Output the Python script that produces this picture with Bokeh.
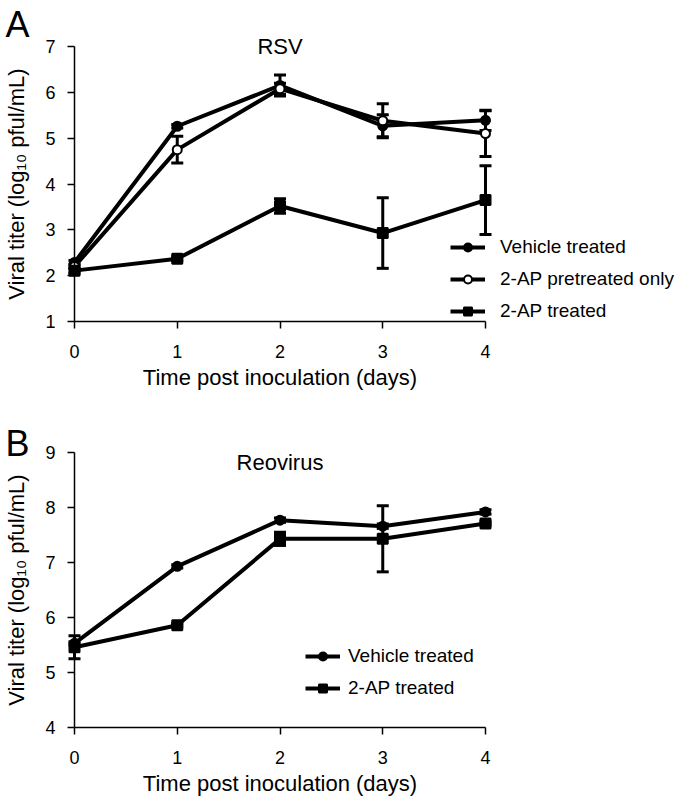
from bokeh.plotting import figure
from bokeh.models import (ColumnDataSource, Whisker, TeeHead, Legend, LegendItem,
                          Label, FixedTicker, Range1d)
from bokeh.layouts import column
from bokeh.embed import file_html
from bokeh.resources import INLINE

# ---------------- data ----------------
days = [0, 1, 2, 3, 4]
day_ticks = [0, 1, 2, 3, 4]

# Panel A: RSV
rsv_vehicle = [2.29, 5.26, 6.15, 5.27, 5.39]
rsv_vehicle_err = [0.04, 0.04, 0.23, 0.24, 0.22]
rsv_pretreated = [2.20, 4.75, 6.08, 5.38, 5.10]
rsv_pretreated_err = [0.04, 0.29, 0.12, 0.37, 0.50]
rsv_2ap = [2.11, 2.37, 3.52, 2.93, 3.65]
rsv_2ap_err = [0.05, 0.04, 0.16, 0.77, 0.75]
rsv_yticks = [1, 2, 3, 4, 5, 6, 7]

# Panel B: Reovirus
reo_vehicle = [5.53, 6.93, 7.77, 7.66, 7.92]
reo_vehicle_err = [0.03, 0.03, 0.04, 0.04, 0.04]
reo_2ap = [5.46, 5.86, 7.43, 7.43, 7.71]
reo_2ap_err = [0.21, 0.03, 0.12, 0.60, 0.03]
reo_yticks = [4, 5, 6, 7, 8, 9]

FONT = "Liberation Sans"
W = 683
PX_X = 102.75      # pixels per day
AX_LEFT = 74       # y axis position inside the figure (px)
AX_TOP = 46        # top tick position inside the figure (px)


def make_fig(ymin, ymax, yticks, height):
    px_y = 275.0 / (ymax - ymin)
    x0 = -AX_LEFT / PX_X
    x1 = x0 + W / PX_X
    y1 = ymax + AX_TOP / px_y
    y0 = y1 - height / px_y
    p = figure(width=W, height=height,
               x_range=Range1d(x0, x1), y_range=Range1d(y0, y1),
               output_backend="svg", toolbar_location=None, min_border=0)
    p.grid.visible = False
    p.outline_line_color = None
    p.background_fill_color = "white"
    p.border_fill_color = "white"
    p.xaxis.ticker = FixedTicker(ticks=day_ticks)
    p.yaxis.ticker = FixedTicker(ticks=yticks)
    p.xaxis.fixed_location = ymin
    p.yaxis.fixed_location = 0
    p.xaxis.bounds = (0, 4)
    p.yaxis.bounds = (ymin, ymax)
    for ax in (p.xaxis[0], p.yaxis[0]):
        ax.axis_line_width = 1.5
        ax.axis_line_color = "black"
        ax.major_tick_line_width = 1.5
        ax.major_tick_line_color = "black"
        ax.major_tick_out = 7
        ax.major_tick_in = 0
        ax.minor_tick_line_color = None
        ax.major_label_text_font = FONT
        ax.major_label_text_font_size = "18px"
        ax.major_label_text_color = "black"
        ax.axis_label_text_font = FONT
        ax.axis_label_text_font_size = "22px"
        ax.axis_label_text_font_style = "normal"
        ax.axis_label_text_color = "black"
    p.xaxis.major_label_standoff = 16
    p.yaxis.major_label_standoff = 12
    p.xaxis.axis_label = "Time post inoculation (days)"
    p.xaxis.axis_label_standoff = 4
    p.yaxis.axis_label = "Viral titer (log\u2081\u2080 pful/mL)"
    p.yaxis.axis_label_standoff = 13
    return p


def add_errors(p, y, err):
    src = ColumnDataSource(dict(x=days,
                                upper=[a + b for a, b in zip(y, err)],
                                lower=[a - b for a, b in zip(y, err)]))
    w = Whisker(base="x", upper="upper", lower="lower", source=src,
                line_width=3, line_color="black",
                upper_head=TeeHead(size=12, line_width=3, line_color="black"),
                lower_head=TeeHead(size=12, line_width=3, line_color="black"))
    p.add_layout(w)


def add_series(p, y, marker, size, fill="black"):
    ln = p.line(days, y, line_width=4, line_color="black")
    sc = p.scatter(days, y, marker=marker, size=size, fill_color=fill,
                   line_color="black", line_width=2)
    return [ln, sc]


def legend(p, items, x, y, standoff):
    lg = Legend(items=[LegendItem(label=lab, renderers=r) for lab, r in items],
                location=(x, y), glyph_width=35, glyph_height=20,
                label_height=20, label_standoff=standoff, spacing=10,
                padding=0, margin=0, border_line_color=None,
                background_fill_alpha=0, label_text_font=FONT,
                label_text_font_size="19px", label_text_color="black")
    p.add_layout(lg)


def label(p, x, y, text, size, align="center"):
    p.add_layout(Label(x=x, y=y, text=text, text_align=align,
                       text_baseline="middle", text_font=FONT,
                       text_font_size=size, text_color="black"))


# ---------------- Panel A ----------------
HA = 406
pA = make_fig(1, 7, rsv_yticks, HA)
add_errors(pA, rsv_vehicle, rsv_vehicle_err)
add_errors(pA, rsv_pretreated, rsv_pretreated_err)
add_errors(pA, rsv_2ap, rsv_2ap_err)
rA1 = add_series(pA, rsv_vehicle, "circle", 9)
rA2 = add_series(pA, rsv_pretreated, "circle", 9, fill="white")
rA3 = add_series(pA, rsv_2ap, "square", 10)
legend(pA, [("Vehicle treated", rA1), ("2-AP pretreated only", rA2),
            ("2-AP treated", rA3)], 450, 84, 15)
label(pA, 2, 6.995, "RSV", "22px")
label(pA, -0.672, 7.48, "A", "36px", "left")

# ---------------- Panel B ----------------
HB = 395
pB = make_fig(4, 9, reo_yticks, HB)
add_errors(pB, reo_vehicle, reo_vehicle_err)
add_errors(pB, reo_2ap, reo_2ap_err)
rB1 = add_series(pB, reo_vehicle, "circle", 9)
rB2 = add_series(pB, reo_2ap, "square", 10)
legend(pB, [("Vehicle treated", rB1), ("2-AP treated", rB2)], 305, 102, 8)
label(pB, 2, 8.82, "Reovirus", "22px")
label(pB, -0.672, 9.17, "B", "36px", "left")

layout = column(pA, pB)
open("out.html", "w").write(file_html(layout, INLINE))
